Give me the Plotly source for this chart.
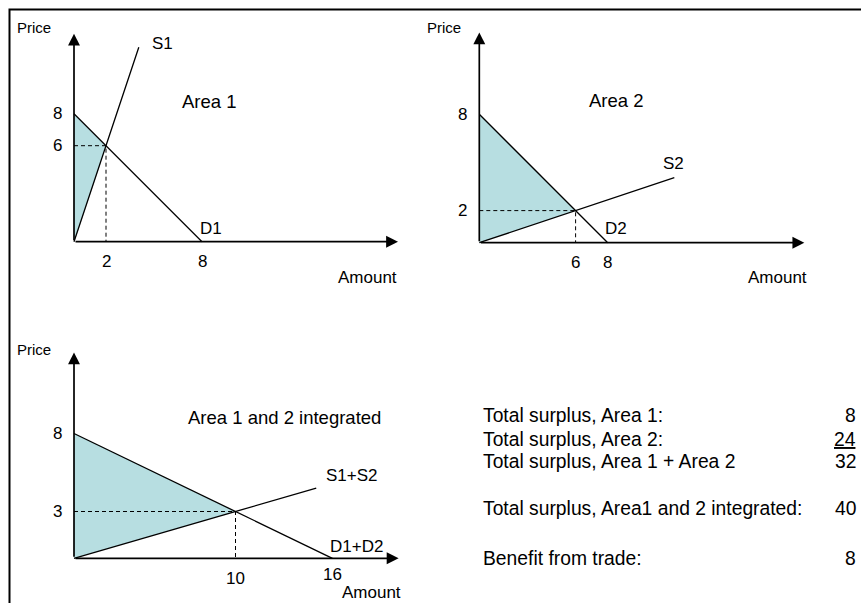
import plotly.graph_objects as go

# ---------------- data ----------------
supply1_x = [0, 4.05]
supply1_y = [0, 12.15]
demand1_x = [0, 8]
demand1_y = [8, 0]
eq1 = (2, 6)

supply2_x = [0, 12.15]
supply2_y = [0, 4.05]
demand2_x = [0, 8]
demand2_y = [8, 0]
eq2 = (6, 2)

supply3_x = [0, 15]
supply3_y = [0, 4.5]
demand3_x = [0, 16]
demand3_y = [8, 0]
eq3 = (10, 3)

axis_end_x = [20.25, 20.25, 20.1]
axis_end_y = [13.0, 13.1, 13.2]

x_ticks = [[2, 8], [6, 8], [10, 16]]
y_ticks = [[8, 6], [8, 2], [8, 3]]

panel_titles = ["Area 1", "Area 2", "Area 1 and 2 integrated"]
supply_names = ["S1", "S2", "S1+S2"]
demand_names = ["D1", "D2", "D1+D2"]

surplus_labels = ["Total surplus, Area 1:", "Total surplus, Area 2:",
                  "Total surplus, Area 1 + Area 2",
                  "Total surplus, Area1 and 2 integrated:", "Benefit from trade:"]
surplus_values = ["8", "<u>24</u>", "32", "40", "8"]

# ---------------- layout helpers ----------------
W, H = 861, 603
FONT = "Liberation Sans, Arial, sans-serif"
FILL = "#b7dee1"


def xp(px):
    return px / W


def yp(py):
    return 1 - py / H


panels = [
    dict(ox=74, oy=241.7, sx=16.0, sy=16.0),
    dict(ox=479.3, oy=242.7, sx=16.05, sy=16.05),
    dict(ox=74, oy=558.3, sx=16.15, sy=15.6),
]
XR = (-1.5, 21.5)
YR = (-1.5, 14.0)

fig = go.Figure()
layout_axes = {}
annotations = []

series = [
    (supply1_x, supply1_y, demand1_x, demand1_y, eq1),
    (supply2_x, supply2_y, demand2_x, demand2_y, eq2),
    (supply3_x, supply3_y, demand3_x, demand3_y, eq3),
]

for i, (p, s) in enumerate(zip(panels, series)):
    n = "" if i == 0 else str(i + 1)
    xa, ya = "x" + n, "y" + n
    layout_axes["xaxis" + n] = dict(
        domain=[xp(p["ox"] + XR[0] * p["sx"]), xp(p["ox"] + XR[1] * p["sx"])],
        range=list(XR), visible=False, anchor=ya, fixedrange=True)
    layout_axes["yaxis" + n] = dict(
        domain=[yp(p["oy"] - YR[0] * p["sy"]), yp(p["oy"] - YR[1] * p["sy"])],
        range=list(YR), visible=False, anchor=xa, fixedrange=True)

    sx, sy, dx, dy, eq = s
    # shaded surplus
    fig.add_trace(go.Scatter(
        x=[0, dx[0], eq[0], 0], y=[sy[0], dy[0], eq[1], sy[0]],
        fill="toself", fillcolor=FILL, line=dict(width=0), mode="lines",
        xaxis=xa, yaxis=ya, hoverinfo="skip"))
    # dashed guides
    fig.add_trace(go.Scatter(
        x=[0, eq[0], eq[0]], y=[eq[1], eq[1], 0], mode="lines",
        line=dict(color="black", width=1, dash="4px,3px"),
        xaxis=xa, yaxis=ya, hoverinfo="skip"))
    # demand & supply
    fig.add_trace(go.Scatter(x=dx, y=dy, mode="lines",
                             line=dict(color="black", width=1.3),
                             xaxis=xa, yaxis=ya, hoverinfo="skip"))
    fig.add_trace(go.Scatter(x=sx, y=sy, mode="lines",
                             line=dict(color="black", width=1.3),
                             xaxis=xa, yaxis=ya, hoverinfo="skip"))

    # arrow axes
    for (tx, ty) in [(axis_end_x[i], 0), (0, axis_end_y[i])]:
        annotations.append(dict(
            x=tx, y=ty, ax=0, ay=0, xref=xa, yref=ya, axref=xa, ayref=ya,
            text="", showarrow=True, arrowhead=2, arrowsize=1.4,
            arrowwidth=1.7, arrowcolor="black"))

    # tick labels
    for k, v in enumerate(x_ticks[i]):
        shift = -20
        if i == 2 and k == 1:
            shift = -16
        annotations.append(dict(x=v, y=0, xref=xa, yref=ya, text=str(v),
                                showarrow=False, yshift=shift,
                                xanchor="center", yanchor="middle",
                                font=dict(size=17, family=FONT, color="black")))
    for v in y_ticks[i]:
        annotations.append(dict(x=0, y=v, xref=xa, yref=ya, text=str(v),
                                showarrow=False, xshift=-17,
                                xanchor="center", yanchor="middle",
                                font=dict(size=17, family=FONT, color="black")))

# free text labels (pixel positions of text centres)
labels = [
    ("Price", 34, 27, 15), ("Price", 444, 27, 15), ("Price", 34, 349, 15),
    ("Amount", 367, 277, 17), ("Amount", 777, 277, 17), ("Amount", 371, 592, 17),
    (panel_titles[0], 209, 101, 18.5), (panel_titles[1], 616, 100, 18.5),
    (panel_titles[2], 284, 417, 18.5),
    (supply_names[0], 162, 43, 17), (supply_names[1], 673, 163, 17),
    (supply_names[2], 352, 475, 17),
    (demand_names[0], 211, 228, 17), (demand_names[1], 616, 229, 17),
    (demand_names[2], 356, 546, 17),
]
for t, x, y, fs in labels:
    annotations.append(dict(x=xp(x), y=yp(y), xref="paper", yref="paper",
                            text=t, showarrow=False,
                            xanchor="center", yanchor="middle",
                            font=dict(size=fs, family=FONT, color="black")))

rows_py = [415, 439.3, 461.7, 508, 558]
for lab, val, py in zip(surplus_labels, surplus_values, rows_py):
    annotations.append(dict(x=xp(481), y=yp(py), xref="paper", yref="paper",
                            text=lab, showarrow=False,
                            xanchor="left", yanchor="middle",
                            font=dict(size=19.3, family=FONT, color="black")))
    annotations.append(dict(x=xp(858), y=yp(py), xref="paper", yref="paper",
                            text=val, showarrow=False,
                            xanchor="right", yanchor="middle",
                            font=dict(size=19.3, family=FONT, color="black")))

fig.update_layout(
    width=W, height=H, margin=dict(l=0, r=0, t=0, b=0),
    paper_bgcolor="white", plot_bgcolor="rgba(0,0,0,0)",
    showlegend=False, annotations=annotations,
    shapes=[dict(type="rect", xref="paper", yref="paper",
                 x0=xp(9.5), x1=1.2, y0=-0.2, y1=yp(9.5),
                 line=dict(color="black", width=2))],
    **layout_axes)

fig.write_html("out.html", config=dict(displayModeBar=False),
               post_script="document.body.style.margin='0';"
                           "document.body.style.overflow='hidden';")
